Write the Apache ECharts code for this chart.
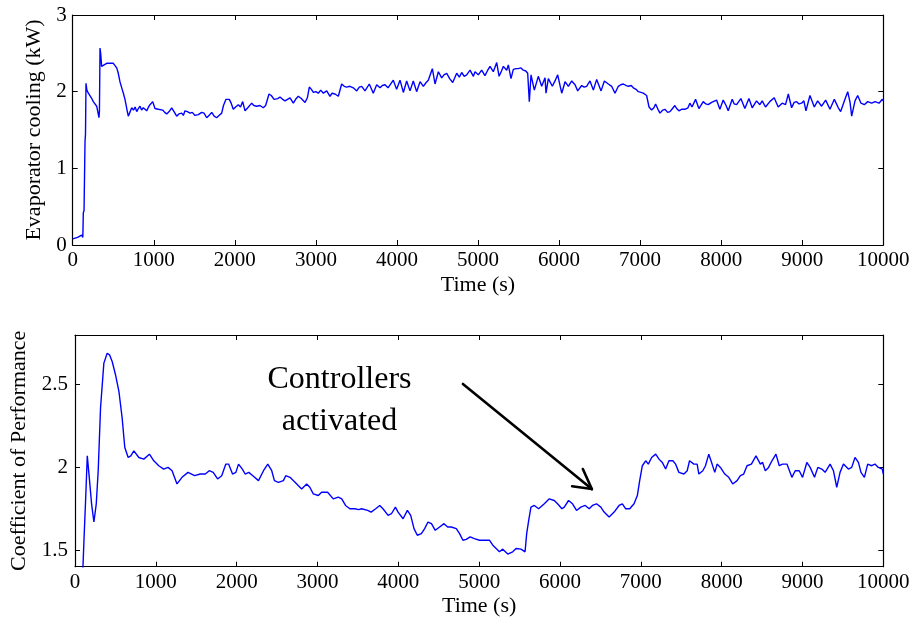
<!DOCTYPE html>
<html>
<head>
<meta charset="utf-8">
<script src="https://cdn.jsdelivr.net/npm/echarts@6/dist/echarts.min.js"></script>
<style>
html,body{margin:0;padding:0;background:#fff;}
#chart{width:917px;height:624px;}
</style>
</head>
<body>
<div id="chart"></div>
<script>
// ---- Data ----
const xTicks = [0,1000,2000,3000,4000,5000,6000,7000,8000,9000,10000];
const coolYTicks = [0,1,2,3];
const copYTicks = [1.5,2,2.5];

const coolTime = [0,60,110,125,131,140,152,158,164,175,193,210,230,254,275,296,315,324,330,337,345,357,380,419,460,501,520,543,560,583,605,625,645,658,672,686,705,728,750,770,790,810,830,850,871,890,913,935,954,987,1015,1035,1056,1080,1110,1135,1160,1190,1221,1250,1283,1310,1345,1365,1385,1415,1447,1475,1509,1550,1591,1620,1653,1690,1715,1745,1776,1805,1838,1860,1891,1932,1955,1981,2010,2043,2070,2097,2126,2160,2208,2235,2270,2310,2351,2380,2422,2450,2484,2530,2557,2590,2619,2650,2681,2722,2750,2783,2820,2866,2895,2919,2945,2969,3000,3030,3060,3092,3134,3174,3200,3236,3277,3318,3350,3380,3420,3462,3504,3535,3565,3606,3659,3708,3750,3791,3820,3853,3890,3914,3955,3996,4038,4079,4120,4161,4202,4243,4285,4326,4360,4387,4410,4437,4470,4511,4552,4580,4614,4650,4688,4737,4770,4799,4830,4860,4902,4943,4963,5004,5045,5086,5115,5148,5189,5231,5260,5290,5313,5354,5374,5407,5436,5470,5497,5530,5559,5590,5613,5633,5654,5695,5744,5786,5827,5839,5868,5917,5950,5983,6033,6074,6115,6156,6197,6230,6279,6310,6340,6382,6423,6464,6518,6559,6608,6649,6690,6731,6760,6793,6830,6855,6890,6916,6950,6978,7010,7039,7080,7110,7142,7170,7191,7220,7245,7280,7306,7340,7368,7400,7429,7450,7479,7510,7532,7553,7590,7614,7640,7656,7684,7725,7750,7779,7810,7840,7882,7943,7984,8025,8060,8087,8136,8160,8190,8243,8292,8342,8383,8436,8477,8506,8547,8600,8654,8703,8753,8794,8828,8869,8900,8931,8960,8992,9020,9046,9095,9149,9190,9239,9289,9342,9396,9445,9474,9527,9561,9590,9610,9651,9684,9725,9766,9807,9857,9898,9947,9988,10000];
const coolValues = [0.08,0.10,0.13,0.10,0.42,0.45,1.35,1.45,2.11,2.02,1.98,1.99,1.92,1.87,1.88,1.81,1.79,1.66,1.75,2.57,2.50,2.33,2.34,2.37,2.37,2.37,2.36,2.31,2.25,2.13,2.05,1.98,1.90,1.83,1.75,1.68,1.73,1.79,1.76,1.80,1.74,1.78,1.81,1.76,1.79,1.77,1.75,1.80,1.83,1.87,1.78,1.79,1.77,1.75,1.76,1.73,1.71,1.74,1.79,1.74,1.68,1.71,1.72,1.69,1.75,1.74,1.72,1.73,1.69,1.70,1.73,1.72,1.66,1.70,1.73,1.68,1.66,1.69,1.72,1.82,1.90,1.90,1.85,1.77,1.80,1.83,1.80,1.87,1.75,1.79,1.85,1.82,1.81,1.82,1.79,1.82,1.97,1.95,1.90,1.91,1.93,1.90,1.88,1.90,1.92,1.85,1.90,1.94,1.91,1.86,1.92,2.06,2.03,1.99,2.00,1.98,2.02,1.98,2.01,1.94,1.98,1.97,1.94,2.10,2.07,2.06,2.07,2.05,2.01,2.06,2.07,2.01,2.10,1.98,2.09,2.05,2.08,2.09,2.05,2.07,2.15,2.03,2.15,1.99,2.14,2.01,2.14,2.00,2.13,2.07,2.12,2.15,2.17,2.30,2.10,2.26,2.18,2.22,2.24,2.17,2.12,2.24,2.19,2.25,2.20,2.22,2.28,2.20,2.26,2.22,2.28,2.21,2.27,2.33,2.26,2.38,2.20,2.27,2.33,2.28,2.35,2.17,2.29,2.30,2.30,2.31,2.28,2.27,2.24,1.87,2.22,2.02,2.20,2.07,2.18,1.98,2.17,2.07,2.14,2.22,1.98,2.13,2.07,2.14,2.09,2.01,2.08,2.06,2.07,2.14,2.02,2.16,2.01,2.14,2.10,2.07,1.98,2.07,2.09,2.10,2.08,2.07,2.08,2.05,2.03,2.00,1.99,1.98,1.95,1.80,1.76,1.79,1.84,1.77,1.72,1.76,1.77,1.73,1.74,1.78,1.82,1.78,1.75,1.77,1.78,1.77,1.79,1.85,1.80,1.81,1.90,1.78,1.82,1.87,1.84,1.83,1.86,1.89,1.77,1.89,1.82,1.75,1.90,1.84,1.83,1.91,1.78,1.91,1.79,1.88,1.83,1.88,1.80,1.87,1.92,1.80,1.85,1.83,1.97,1.79,1.86,1.87,1.84,1.85,1.88,1.75,1.95,1.80,1.88,1.81,1.89,1.77,1.90,1.79,1.74,1.90,2.00,1.86,1.68,1.88,1.95,1.85,1.83,1.87,1.85,1.87,1.85,1.90,1.88];

const copTime = [95,100,111,131,152,160,180,205,234,263,287,316,357,398,427,460,501,543,583,616,658,690,728,790,851,921,975,1036,1098,1151,1201,1262,1324,1398,1480,1550,1612,1661,1710,1764,1815,1866,1900,1949,1990,2023,2070,2105,2150,2200,2270,2332,2385,2434,2467,2516,2578,2607,2660,2722,2804,2866,2905,2948,3010,3051,3125,3195,3257,3300,3347,3400,3462,3510,3545,3621,3663,3720,3770,3810,3874,3915,3964,3997,4059,4112,4153,4194,4235,4285,4326,4367,4410,4457,4511,4565,4610,4655,4717,4758,4799,4840,4889,4940,4963,5004,5066,5127,5169,5210,5251,5292,5354,5415,5457,5518,5568,5588,5613,5641,5682,5736,5806,5868,5929,5970,6024,6053,6106,6155,6205,6258,6312,6361,6402,6452,6505,6546,6608,6670,6731,6772,6813,6863,6916,6957,6986,7019,7060,7093,7134,7184,7225,7266,7307,7348,7397,7430,7471,7533,7574,7603,7656,7697,7718,7767,7800,7841,7882,7915,7944,7985,8006,8039,8088,8137,8191,8232,8273,8314,8368,8425,8479,8507,8540,8581,8622,8672,8713,8754,8808,8869,8910,8960,9001,9054,9095,9149,9190,9239,9280,9342,9383,9424,9465,9507,9568,9609,9650,9692,9724,9766,9807,9856,9897,9938,9988,10000];
const copValues = [1.35,1.42,1.56,1.80,2.07,2.08,1.92,1.78,1.67,1.78,1.98,2.36,2.63,2.69,2.68,2.64,2.56,2.46,2.30,2.12,2.06,2.07,2.10,2.06,2.05,2.08,2.04,2.01,1.99,2.00,1.98,1.90,1.94,1.97,1.95,1.96,1.96,1.98,1.97,1.93,1.95,2.02,2.02,1.96,1.97,2.02,1.99,1.96,1.97,1.95,1.92,1.98,2.02,1.98,1.92,1.91,1.92,1.95,1.94,1.91,1.87,1.90,1.88,1.84,1.83,1.85,1.85,1.81,1.82,1.81,1.77,1.75,1.75,1.745,1.75,1.74,1.73,1.75,1.77,1.75,1.71,1.72,1.76,1.73,1.69,1.74,1.71,1.63,1.59,1.60,1.63,1.67,1.66,1.62,1.64,1.66,1.64,1.64,1.63,1.60,1.56,1.565,1.58,1.57,1.57,1.56,1.56,1.56,1.53,1.51,1.49,1.506,1.476,1.49,1.51,1.506,1.49,1.60,1.68,1.76,1.77,1.75,1.78,1.81,1.80,1.78,1.75,1.76,1.80,1.78,1.74,1.76,1.77,1.75,1.77,1.78,1.76,1.73,1.70,1.73,1.77,1.78,1.75,1.75,1.78,1.83,1.92,2.01,2.04,2.02,2.06,2.08,2.05,2.03,1.99,2.04,2.04,2.02,1.97,1.96,1.98,2.04,2.02,2.02,1.96,1.98,2.01,2.08,2.02,1.97,2.02,2.00,2.00,1.96,1.94,1.90,1.92,1.95,1.96,2.01,2.02,2.07,2.02,2.03,1.98,2.00,2.04,2.08,2.01,2.02,2.02,1.94,1.98,1.98,1.94,2.03,2.00,1.94,2.00,1.99,1.97,2.02,1.98,1.88,1.97,2.02,1.99,2.00,2.06,2.03,1.97,1.94,2.02,2.01,2.02,2.00,1.99,1.96];

// annotation arrow (data coordinates of the lower plot): shaft start, tip, two head ends
const arrowStart = [4799, 2.504];
const arrowTip = [6394, 1.869];
const arrowHeadA = [6150, 1.886];
const arrowHeadB = [6283, 1.990];
const annotationLines = ['Controllers', 'activated'];

// ---- Chart ----
const FONT = '"Liberation Serif", "Times New Roman", serif';
const pairs = (xs, ys) => xs.map((x, i) => [x, ys[i]]);

function xAx(grid, pos, showLabel, name) {
  return {
    type: 'value', gridIndex: grid, position: pos, min: 0, max: 10000, interval: 1000,
    name: name || '', nameLocation: 'middle', nameGap: 29,
    nameTextStyle: {fontFamily: FONT, fontSize: 22, color: '#000'},
    axisLine: {show: true, onZero: false, lineStyle: {color: '#000', width: 1.2}},
    axisTick: {show: true, inside: true, length: 5, customValues: xTicks, lineStyle: {color: '#000', width: 1}},
    axisLabel: {show: showLabel, margin: 5, fontFamily: FONT, fontSize: 21, color: '#000',
      customValues: xTicks, formatter: v => String(v)},
    splitLine: {show: false}
  };
}

const option = {
  animation: false,
  backgroundColor: '#fff',
  grid: [
    {left: 72.7, right: 33.7, top: 15, height: 230},
    {left: 72.7, right: 33.7, top: 335, height: 231.7}
  ],
  xAxis: [
    xAx(0, 'bottom', true, 'Time (s)'),
    xAx(0, 'top', false),
    xAx(1, 'bottom', true, 'Time (s)'),
    xAx(1, 'top', false)
  ],
  yAxis: [
    {
      type: 'value', gridIndex: 0, position: 'left', min: 0, max: 3, interval: 1,
      name: 'Evaporator cooling (kW)', nameLocation: 'middle', nameGap: 25,
      nameTextStyle: {fontFamily: FONT, fontSize: 22, color: '#000'},
      axisLine: {show: true, onZero: false, lineStyle: {color: '#000', width: 1.2}},
      axisTick: {show: true, inside: true, length: 5, customValues: coolYTicks, lineStyle: {color: '#000'}},
      axisLabel: {margin: 6, fontFamily: FONT, fontSize: 21, color: '#000', customValues: coolYTicks,
        formatter: v => String(v)},
      splitLine: {show: false}
    },
    {
      type: 'value', gridIndex: 0, position: 'right', min: 0, max: 3, interval: 1,
      axisLine: {show: true, onZero: false, lineStyle: {color: '#000', width: 1.2}},
      axisTick: {show: true, inside: true, length: 5, customValues: coolYTicks, lineStyle: {color: '#000'}},
      axisLabel: {show: false}, splitLine: {show: false}
    },
    {
      type: 'value', gridIndex: 1, position: 'left', min: 1.4, max: 2.8,
      name: 'Coefficient of Performance', nameLocation: 'middle', nameGap: 45,
      nameTextStyle: {fontFamily: FONT, fontSize: 22, color: '#000'},
      axisLine: {show: true, onZero: false, lineStyle: {color: '#000', width: 1.2}},
      axisTick: {show: true, inside: true, length: 5, customValues: copYTicks, lineStyle: {color: '#000'}},
      axisLabel: {margin: 7, fontFamily: FONT, fontSize: 21, color: '#000', customValues: copYTicks,
        formatter: v => String(Math.round(v * 10) / 10)},
      splitLine: {show: false}
    },
    {
      type: 'value', gridIndex: 1, position: 'right', min: 1.4, max: 2.8,
      axisLine: {show: true, onZero: false, lineStyle: {color: '#000', width: 1.2}},
      axisTick: {show: true, inside: true, length: 5, customValues: copYTicks, lineStyle: {color: '#000'}},
      axisLabel: {show: false}, splitLine: {show: false}
    }
  ],
  series: [
    {
      type: 'line', xAxisIndex: 0, yAxisIndex: 0, data: pairs(coolTime, coolValues),
      showSymbol: false, symbol: 'none', clip: true,
      lineStyle: {color: '#0000ff', width: 1.4}
    },
    {
      type: 'line', xAxisIndex: 2, yAxisIndex: 2, data: pairs(copTime, copValues),
      showSymbol: false, symbol: 'none', clip: true,
      lineStyle: {color: '#0000ff', width: 1.4},
      markLine: {
        silent: true, symbol: ['none', 'none'], animation: false,
        label: {show: false},
        lineStyle: {color: '#000', width: 2.6, type: 'solid', cap: 'round'},
        emphasis: {disabled: true},
        data: [
          [{coord: arrowStart}, {coord: arrowTip}],
          [{coord: arrowHeadA}, {coord: arrowTip}],
          [{coord: arrowHeadB}, {coord: arrowTip}]
        ]
      }
    }
  ],
  graphic: [
    {type: 'text', x: 339.5, y: 380, style: {text: annotationLines[0], fontFamily: FONT, fontSize: 32, fill: '#000', textAlign: 'center', textVerticalAlign: 'middle'}},
    {type: 'text', x: 339.5, y: 422, style: {text: annotationLines[1], fontFamily: FONT, fontSize: 32, fill: '#000', textAlign: 'center', textVerticalAlign: 'middle'}}
  ]
};

const chart = echarts.init(document.getElementById('chart'), null, {renderer: 'canvas'});
chart.setOption(option);
</script>
</body>
</html>
